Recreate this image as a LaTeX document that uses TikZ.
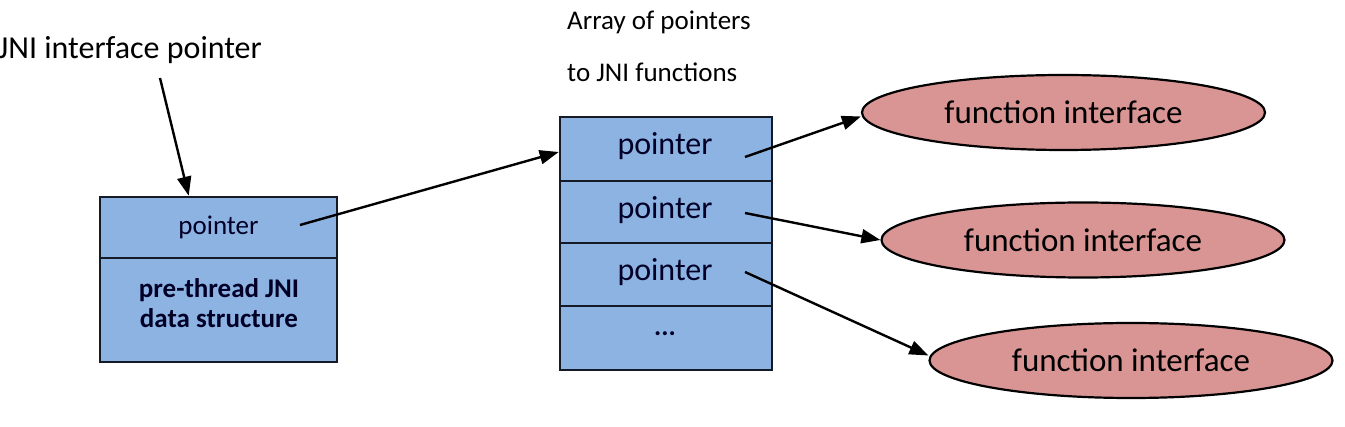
\documentclass[tikz,border=0pt]{standalone}
\usepackage{fontspec}
\setmainfont{Carlito}
\usetikzlibrary{arrows.meta,shapes.geometric,calc}
\definecolor{boxblue}{HTML}{8DB3E2}
\definecolor{ellred}{HTML}{D99594}
\definecolor{edge}{HTML}{141A26}
\begin{document}
\begin{tikzpicture}[x=1pt,y=-1pt,
  cell/.style={draw=edge, line width=2.6pt, fill=boxblue, inner sep=0pt, text=black!85!blue},
  fnell/.style={ellipse, draw=black, line width=2.2pt, fill=ellred, inner sep=0pt,
    minimum width=403pt, minimum height=75pt, font=\fontsize{33}{38}\selectfont},
  arr/.style={line width=2.4pt, -{Triangle[length=19pt,width=14pt]}},
  big/.style={font=\fontsize{32}{38}\selectfont},
  mid/.style={font=\fontsize{27}{32}\selectfont},
  small/.style={font=\fontsize{27}{30}\selectfont}]
\useasboundingbox (0,0) rectangle (1345,427);

% left structure
\node[cell, minimum width=237pt, minimum height=61pt, mid] (lp) at (218.5,227.5) {pointer};
\node[cell, minimum width=237pt, minimum height=104pt] (ld) at (218.5,310) {};
\node[mid, font=\bfseries\fontsize{27}{30}\selectfont, align=center, text=black!85!blue] (ldt) at (219,303) {pre-thread JNI\\data structure};

\node[big, anchor=west, inner sep=0pt] (jni) at (-2,50) {JNI interface pointer};
\coordinate (jnis) at (160,78);
\draw[arr] (jnis) -- ($(lp.north west)+(90,0)$);

% array of pointers
\node[small, anchor=west, inner sep=0pt] (arrt1) at (567,22) {Array of pointers};
\node[small, anchor=west, inner sep=0pt] (arrt2) at (567,72) {to JNI functions};

\node[cell, minimum width=212pt, minimum height=64pt] (a1) at (666,149) {};
\node[cell, minimum width=212pt, minimum height=62pt] (a2) at (666,212) {};
\node[cell, minimum width=212pt, minimum height=63pt] (a3) at (666,274.5) {};
\node[cell, minimum width=212pt, minimum height=64pt] (a4) at (666,338) {};
\node[big, text=black!85!blue] (t1) at (665,146) {pointer};
\node[big, text=black!85!blue] (t2) at (665,210) {pointer};
\node[big, text=black!85!blue] (t3) at (665,272) {pointer};
\node[mid, font=\bfseries\fontsize{27}{32}\selectfont, text=black!85!blue] (t4) at (665,334) {...};

\coordinate (lps) at (300,225);
\draw[arr] (lps) -- ($(a1.west)+(0,3)$);

% function interfaces
\node[fnell] (e1) at (1063.5,112.5) {function interface};
\node[fnell] (e2) at (1083,240) {function interface};
\node[fnell] (e3) at (1131,360.5) {function interface};

\coordinate (s1) at (745,157);
\coordinate (s2) at (745,213);
\coordinate (s3) at (745,272);
\draw[arr] (s1) -- ($(e1.west)+(0,4)$);
\draw[arr] (s2) -- (e2.west);
\draw[arr] (s3) -- ($(e3.west)+(0,-5)$);
\end{tikzpicture}
\end{document}
